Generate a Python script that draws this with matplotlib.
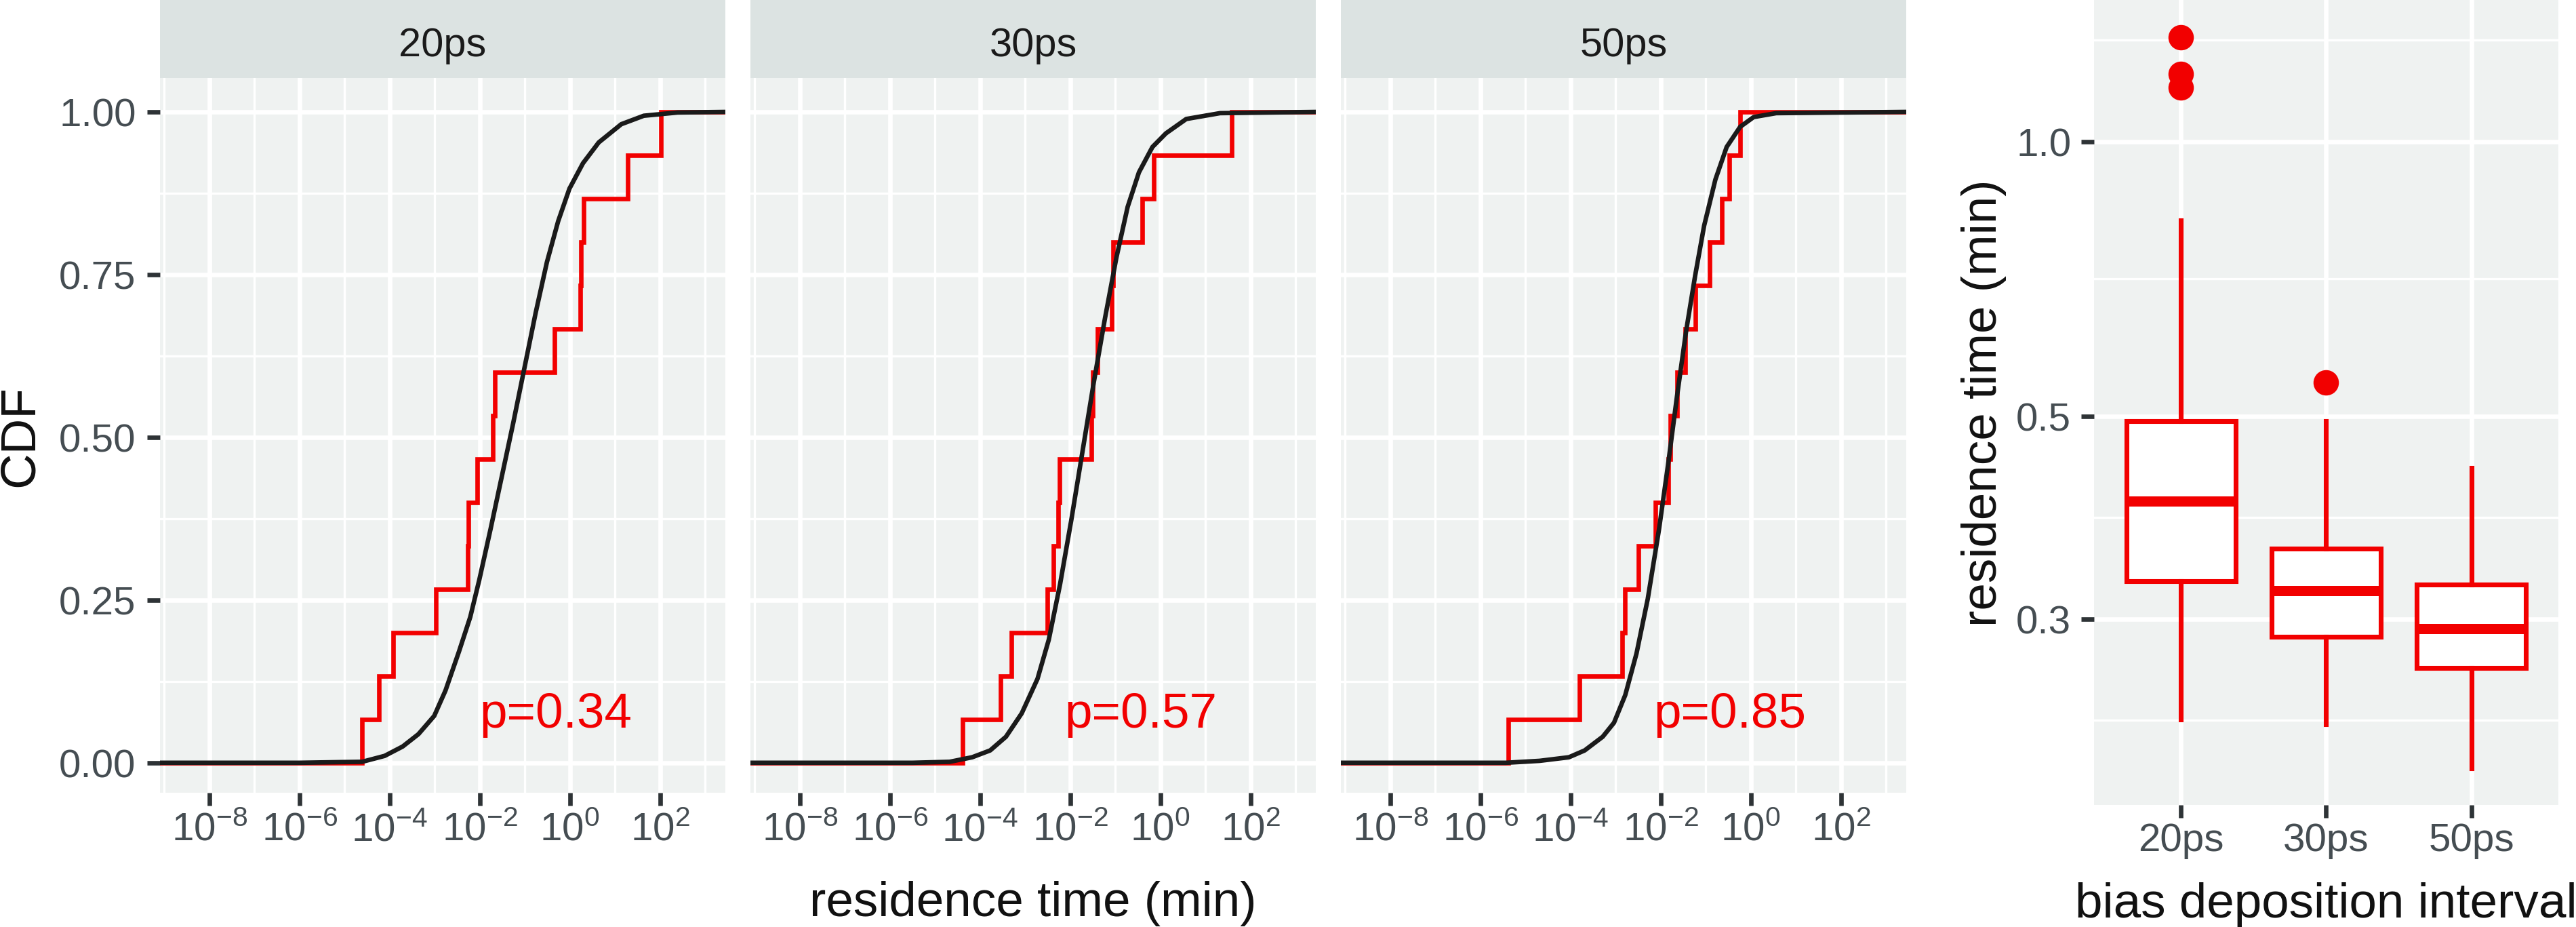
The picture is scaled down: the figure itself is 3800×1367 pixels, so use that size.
import matplotlib
matplotlib.use('Agg')
import matplotlib.pyplot as plt
import numpy as np

plt.rcParams['font.family'] = ['Liberation Sans', 'DejaVu Sans']
plt.rcParams['mathtext.fontset'] = 'custom'
plt.rcParams['mathtext.rm'] = 'Liberation Sans'
plt.rcParams['mathtext.it'] = 'Liberation Sans:italic'
plt.rcParams['mathtext.bf'] = 'Liberation Sans:bold'
plt.rcParams['mathtext.default'] = 'regular'

# ---- data ----
intervals = ['20ps', '30ps', '50ps']
p_values = [0.34, 0.57, 0.85]

# residence times of the runs, log10(min)
log_t_20ps = [-4.61, -4.235, -3.92, -2.97, -2.27, -2.25, -2.05, -1.71, -1.66,
              -0.345, 0.23, 0.25, 0.30, 1.29, 2.015]
log_t_30ps = [-4.385, -3.55, -3.30, -2.50, -2.375, -2.265, -2.24, -1.535, -1.505,
              -1.39, -1.085, -1.05, -0.40, -0.15, 1.59]
log_t_50ps = [-5.385, -3.795, -2.86, -2.785, -2.485, -2.12, -1.825, -1.785, -1.635,
              -1.45, -1.235, -0.91, -0.645, -0.47, -0.235]

# theoretical CDF curves (log10 time, CDF)
theory_logt_20ps = [-9.5, -6.0, -5.11, -4.61, -4.11, -3.71, -3.36, -3.01, -2.76, -2.46,
                    -2.21, -2.01, -1.76, -1.51, -1.26, -1.01, -0.76, -0.51, -0.26,
                    -0.01, 0.29, 0.64, 1.14, 1.64, 2.39, 3.6]
theory_cdf_20ps = [0.0, 0.0, 0.001, 0.0015, 0.0106, 0.025, 0.044, 0.072, 0.111, 0.171,
                   0.224, 0.281, 0.359, 0.44, 0.521, 0.606, 0.691, 0.769, 0.832,
                   0.882, 0.921, 0.953, 0.981, 0.994, 0.999, 1.0]
theory_logt_30ps = [-9.5, -5.5, -4.675, -4.175, -3.775, -3.425, -3.075, -2.725, -2.475,
                    -2.225, -1.975, -1.725, -1.475, -1.225, -0.975, -0.725, -0.475,
                    -0.175, 0.125, 0.575, 1.325, 3.6]
theory_cdf_30ps = [0.0, 0.0, 0.0015, 0.0085, 0.019, 0.040, 0.076, 0.129, 0.189,
                   0.274, 0.373, 0.479, 0.585, 0.684, 0.776, 0.854, 0.907,
                   0.946, 0.967, 0.989, 0.998, 1.0]
theory_logt_50ps = [-9.5, -5.435, -4.685, -4.035, -3.685, -3.285, -3.035, -2.785, -2.535,
                    -2.285, -2.035, -1.835, -1.635, -1.435, -1.235, -1.035, -0.785,
                    -0.535, -0.235, 0.065, 0.565, 3.6]
theory_cdf_50ps = [0.0, 0.0, 0.003, 0.0085, 0.019, 0.040, 0.0615, 0.104, 0.168,
                   0.252, 0.359, 0.458, 0.564, 0.663, 0.748, 0.825, 0.896,
                   0.946, 0.977, 0.992, 0.998, 1.0]

# boxplot summary (min)
box_whislo = [0.233, 0.230, 0.206]
box_q1 = [0.330, 0.287, 0.265]
box_med = [0.404, 0.322, 0.293]
box_q3 = [0.494, 0.358, 0.327]
box_whishi = [0.820, 0.494, 0.439]
box_fliers = [[1.146, 1.186, 1.30], [0.545], []]

# ---- style ----
W, H, DPI = 3800, 1368, 300
PANEL = '#EFF2F1'
STRIP = '#DCE3E2'
RED = '#F20000'
TICK_TXT = '#454D52'
TICK = '#2E3336'
TITLE = '#111111'
GRID_MAJ = 1.6
GRID_MIN = 0.8

fig = plt.figure(figsize=(W / DPI, H / DPI), dpi=DPI)
fig.patch.set_facecolor('white')


def px_axes(x0, y0, x1, y1):
    return fig.add_axes([x0 / W, 1 - y1 / H, (x1 - x0) / W, (y1 - y0) / H])


def style_panel(ax):
    ax.set_facecolor(PANEL)
    for s in ax.spines.values():
        s.set_visible(False)
    ax.set_axisbelow(True)
    ax.grid(True, which='major', color='white', linewidth=GRID_MAJ)
    ax.grid(True, which='minor', color='white', linewidth=GRID_MIN)
    ax.tick_params(which='major', length=4.5, width=1.6, color=TICK,
                   labelcolor=TICK_TXT, labelsize=14)
    ax.tick_params(which='minor', length=0)


panel_x = [(236, 1070), (1107, 1941), (1978, 2812)]
all_logt = [log_t_20ps, log_t_30ps, log_t_50ps]
theory_x = [theory_logt_20ps, theory_logt_30ps, theory_logt_50ps]
theory_y = [theory_cdf_20ps, theory_cdf_30ps, theory_cdf_50ps]
p_text_logx = [-2.01, -2.13, -2.16]

xlim = (10 ** -9.094, 10 ** 3.449)
ylim = (-0.046, 1.052)

for i, (x0, x1) in enumerate(panel_x):
    ax = px_axes(x0, 116, x1, 1170)
    style_panel(ax)
    ax.set_xscale('log')
    ax.set_xlim(xlim)
    ax.set_ylim(ylim)
    ax.set_xticks([10.0 ** k for k in range(-8, 3, 2)])
    ax.set_xticks([10.0 ** k for k in range(-9, 4, 2)], minor=True)
    ax.xaxis.set_minor_formatter(plt.NullFormatter())
    ax.set_yticks([0, 0.25, 0.5, 0.75, 1.0])
    ax.set_yticks([0.125, 0.375, 0.625, 0.875], minor=True)
    ax.tick_params(axis='x', pad=2)
    ax.tick_params(axis='y', pad=4)
    if i == 0:
        ax.set_yticklabels(['0.00', '0.25', '0.50', '0.75', '1.00'])
    else:
        ax.tick_params(axis='y', which='both', left=False, labelleft=False)

    # empirical CDF
    t = np.sort(10.0 ** np.array(all_logt[i]))
    n = len(t)
    xs = np.concatenate([[xlim[0]], t, [xlim[1]]])
    ys = np.concatenate([[0.0], np.arange(1, n + 1) / n, [1.0]])
    ax.step(xs, ys, where='post', color=RED, linewidth=1.6, solid_joinstyle='miter')
    # theoretical CDF
    ax.plot(10.0 ** np.array(theory_x[i]), theory_y[i], color='#1A1A1A', linewidth=1.6)

    ax.text(10 ** p_text_logx[i], 0.055, 'p=%.2f' % p_values[i], color=RED,
            fontsize=17.5, ha='left', va='baseline')

    # facet strip
    st = px_axes(x0, 0, x1, 116)
    st.set_facecolor(STRIP)
    st.set_xticks([])
    st.set_yticks([])
    for s in st.spines.values():
        s.set_visible(False)
    st.text(0.5, 0.284, intervals[i], transform=st.transAxes, ha='center',
            va='baseline', fontsize=14.3, color='#1A1A1A')

fig.text(30 / W, 1 - 643 / H, 'CDF', rotation=90, ha='center', va='center',
         fontsize=17.5, color=TITLE)
fig.text(1524 / W, 1 - 1351 / H, 'residence time (min)', ha='center', va='baseline',
         fontsize=17.5, color=TITLE)

# ---- boxplot panel ----
bx = px_axes(3089, 0, 3774, 1188)
style_panel(bx)
bx.set_yscale('log')
stats = []
for k in range(len(intervals)):
    stats.append(dict(whislo=box_whislo[k], q1=box_q1[k], med=box_med[k], q3=box_q3[k],
                      whishi=box_whishi[k], fliers=box_fliers[k]))
positions = np.arange(1, len(intervals) + 1)
bx.bxp(stats, positions=positions, widths=0.75, showcaps=False, patch_artist=True,
       boxprops=dict(facecolor='white', edgecolor=RED, linewidth=1.7),
       whiskerprops=dict(color=RED, linewidth=1.7),
       medianprops=dict(color=RED, linewidth=3.6, solid_capstyle='butt'),
       flierprops=dict(marker='o', markerfacecolor=RED, markeredgecolor=RED,
                       markersize=8))
bx.set_xlim(0.4, 3.6)
bx.set_ylim(0.1877, 1.431)
maj = np.array([0.3, 0.5, 1.0])
lb = np.log10(maj)
bd = lb[1] - lb[0]
ext = np.concatenate([[lb[0] - bd], lb, [lb[-1] + bd]])
minor = 10 ** ((ext[:-1] + ext[1:]) / 2)
bx.yaxis.set_major_locator(plt.FixedLocator(maj))
bx.yaxis.set_minor_locator(plt.FixedLocator(minor))
bx.yaxis.set_major_formatter(plt.FixedFormatter(['0.3', '0.5', '1.0']))
bx.yaxis.set_minor_formatter(plt.NullFormatter())
bx.set_xticks(positions)
bx.set_xticklabels(intervals)
bx.tick_params(axis='y', pad=3.6)
bx.tick_params(axis='x', pad=1.5)

fig.text(2926 / W, 1 - 594 / H, 'residence time (min)', rotation=90, ha='center',
         va='center', fontsize=17.5, color=TITLE)
fig.text(3431 / W, 1 - 1353 / H, 'bias deposition interval', ha='center', va='baseline',
         fontsize=17.5, color=TITLE)

fig.savefig('out.png', dpi=DPI, facecolor='white')
